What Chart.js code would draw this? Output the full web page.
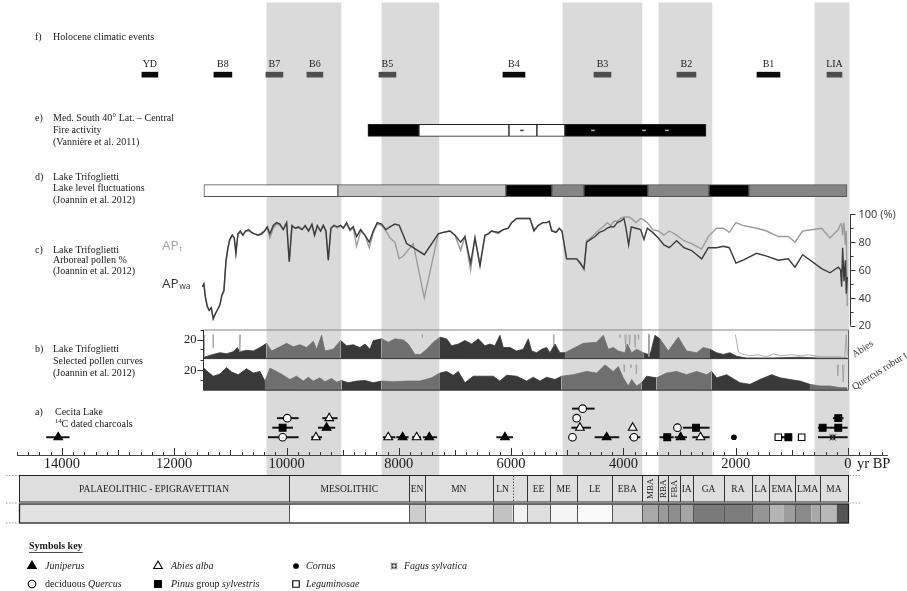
<!DOCTYPE html>
<html lang="en">
<head>
<meta charset="utf-8">
<title>Holocene records – Calabria</title>
<script src="https://cdn.jsdelivr.net/npm/chart.js@4.4.1/dist/chart.umd.min.js"></script>
<style>
  html, body { margin: 0; padding: 0; background: #ffffff; }
  canvas { display: block; }
</style>
</head>
<body>
<canvas id="chart" width="907" height="591"></canvas>
<script>
/* ================= data (ages in cal yr BP) ================= */

// f) Holocene climatic events
const eventNames = ['YD', 'B8', 'B7', 'B6', 'B5', 'B4', 'B3', 'B2', 'B1', 'LIA'];
const eventStart = [12576, 11293, 10367, 9637, 8354, 6145, 4524, 3046, 1621, 374];
const eventEnd   = [12291, 10973, 10064, 9352, 8051, 5753, 4221, 2708, 1211, 107];
const eventMajor = [true, true, false, false, false, true, false, false, true, false];

// shaded cold intervals
const bandStart = [10349, 8300, 5076, 3366, 588];
const bandEnd   = [9031, 7285, 3669, 2422, -20];

// e) fire activity, Med. South 40° Lat.
const fireStart = [8550, 7642, 6038, 5540, 5041];
const fireEnd   = [7642, 6038, 5540, 5041, 2529];
const fireHigh  = [true, false, false, false, true];
const fireMarkAge = [5807, 4542, 3634, 3224];

// d) lake level fluctuations (0 = lowest … 3 = highest)
const lakeStart = [11471, 9084, 6092, 5273, 4703, 3563, 2476, 1763];
const lakeEnd   = [9084, 6092, 5273, 4703, 3563, 2476, 1763, 18];
const lakeLevel = [0, 1, 3, 2, 3, 2, 3, 2];

// c) arboreal pollen %
const apAge = [11500,11471,11447,11412,11376,11340,11305,11263,11222,11186,
  11150,11115,11079,11043,11008,10966,10931,10901,10865,10824,
  10776,10729,10675,10622,10568,10503,10438,10390,10343,10296,
  10236,10177,10117,10058,9998,9951,9903,9844,9785,9725,
  9666,9607,9547,9500,9452,9393,9345,9298,9256,9209,
  9155,9096,9037,8989,8930,8870,8811,8752,8680,8603,
  8526,8455,8384,8306,8229,8158,8069,7992,7920,7861,
  7742,7546,7297,7208,7089,7000,6899,6822,6721,6643,
  6554,6466,6406,6347,6228,6139,6050,5991,5902,5842,
  5753,5664,5593,5516,5439,5367,5320,5278,5201,5142,
  5094,5011,4952,4833,4774,4702,4655,4584,4506,4429,
  4358,4287,4227,4168,4109,4049,3990,3954,3907,3859,
  3776,3693,3634,3574,3479,3378,3277,3183,3052,2921,
  2785,2606,2488,2339,2221,2114,1995,1876,1627,1449,
  1241,1063,944,807,469,321,172,131,113,95,
  71,47,30,12];
const apWa = [48,50,41,34,31,33,25,29,32,35,
  42,45,66,76,82,85,83,72,86,88,
  85,88,89,87,86,85,86,88,91,86,
  92,94,93,89,94,66,92,90,91,89,
  92,88,93,85,92,88,92,88,67,90,
  92,91,92,90,94,89,91,84,89,85,
  80,88,94,93,89,91,93,92,85,79,
  76,71,86,87,88,85,80,84,65,83,
  63,85,86,88,87,89,90,94,97,97,
  97,97,88,92,94,94,95,88,87,90,
  88,68,68,68,65,61,80,82,84,87,
  88,90,91,91,94,95,97,90,78,91,
  90,89,82,90,87,83,78,76,81,76,
  74,68,76,76,77,76,65,67,72,70,
  67,68,62,71,61,58,62,60,48,76,
  52,67,43,55];
const apT = [48,50,41,34,31,33,25,29,32,35,
  42,45,66,76,82,85,83,72,86,87,
  85,88,88,87,86,85,87,88,90,83,
  90,93,92,89,94,66,91,90,90,89,
  91,88,92,85,91,88,92,88,67,90,
  92,90,92,90,93,88,90,77,88,85,
  76,87,93,92,88,83,80,68,70,73,
  79,40,86,87,88,85,74,84,60,83,
  64,85,86,88,86,89,90,94,97,97,
  97,97,89,92,94,94,95,89,87,90,
  88,68,68,68,66,60,81,83,86,89,
  91,94,92,95,95,97,98,98,98,97,
  94,97,96,94,89,88,85,88,85,81,
  79,75,84,90,90,87,94,92,90,88,
  84,84,80,88,90,83,89,93,93,85,
  94,78,88,34];
const apTickValues = [20, 40, 60, 80, 100];
const apTickLabels = ['20', '40', '60', '80', '100 (%)'];

// b) selected pollen curves (%)
const abiesAge = [11471,11305,11186,11067,10949,10877,10830,10711,10592,10473,
  10355,10266,10117,9998,9880,9761,9642,9523,9464,9375,
  9316,9167,9037,8930,8811,8692,8603,8514,8455,8306,
  8188,8069,7920,7831,7713,7612,7505,7386,7267,7149,
  7059,6941,6822,6703,6585,6466,6377,6288,6199,6139,
  6020,5902,5783,5694,5634,5545,5456,5367,5308,5219,
  5130,5041,4922,4714,4477,4358,4269,4180,4091,3972,
  3931,3853,3764,3646,3556,3515,3438,3349,3200,3022,
  2874,2695,2577,2458,2339,2221,2102,1983,1805,1330,
  855,558,142,12];
const abiesPct = [1.5,4.4,6.2,5.1,7.3,11.6,7.3,8.7,8.0,11.6,
  16,8,12.4,16,12.4,14.5,11.6,18.2,9.8,24.4,
  8,9.8,18.9,13.5,14.5,11.6,15.3,9.8,18.9,20.7,
  17.1,20.7,19.6,15.3,4.4,4.4,9.8,17.1,22.5,20.7,
  13.5,15.3,18.9,15.3,20.7,13.5,15.3,13.5,24.4,11.6,
  11.6,8,9.8,20.7,8,6.2,9.8,11.6,6.2,15.3,
  6.2,6.2,9.8,16,17.1,24.4,9.8,11.6,8,6.2,
  15.3,6.2,9.8,6.2,4.4,6.2,24.4,20.7,8,22.5,
  8,6.2,11.6,9.8,6.2,4.4,6.2,2.5,0.7,0.7,
  1.5,0.7,0.7,0.7];
const quercusAge = [11471,11397,11305,11186,11067,10978,10859,10711,10592,10473,
  10384,10295,10176,10058,9939,9820,9701,9612,9523,9405,
  9316,9197,9108,9019,8900,8752,8603,8455,8306,8099,
  7861,7624,7416,7267,7149,7030,6941,6822,6674,
  6495,6317,6199,6080,5902,5724,5605,5486,5367,5219,
  5100,4892,4655,4477,4328,4180,4091,4002,3913,3853,
  3764,3675,3586,3408,3230,3052,2874,2695,2517,2428,
  2339,2161,1924,1746,1568,1360,1211,1033,855,677,
  499,321,142,12];
const quercusPct = [21.6,17.8,13.7,15.9,22.2,17.8,15.2,21,16.8,18.4,
  8.9,21.6,18.4,14.6,10.5,13.7,8.9,12.7,8.9,12.1,
  8.3,11.4,7.9,9.5,7.3,8.9,9.5,7.3,8.9,8.3,
  8.9,8.9,12.1,16.8,18.4,14.6,18.4,7.3,13.7,
  13.7,13.7,8.9,14.6,13.7,8.9,12.7,8.9,12.7,10.5,
  13.7,15.2,18.4,16.8,24.8,18.4,23.2,12.1,4.1,10.5,
  4.1,7.3,13.7,12.1,16.8,18.4,15.2,18.4,15.2,18.4,
  12.1,15.2,7.3,5.7,10.5,15.2,12.1,10.5,8.9,5.7,
  4.1,4.1,2.5,2.5];
// exaggerated curves (values above the panel top are off-scale)
const abiesExAge = [11480,11465,11450,11320,11305,11290,10850,10830,10810,7600,7580,7560,
  5500,5490,5480,5260,5240,5220,4080,4060,4040,3990,3960,3940,3920,3890,3860,
  3820,3790,3770,3750,3730,3710,3560,3545,3530,
  2050,1950,1900,1750,1600,1450,1330,1200,1000,850,700,500,300,150,60,30,12];
const abiesExPct = [40,3,40,40,11,40,40,7,40,40,22,40,
  40,28,40,40,13,40,40,22,40,40,12,40,40,14,40,
  40,12,40,40,20,40,40,2,40,
  40,7,5,3,4,2,5,3,4,3,4,2,2,2,1,25,3];
const quercusExAge = [4010,3985,3960,3890,3865,3840,3790,3770,3750,210,180,150,110,85,60];
const quercusExPct = [40,18,40,40,22,40,40,16,40,40,14,40,40,8,40];
const stripTickValues = [10, 20, 30];

// a) Cecita Lake 14C-dated charcoals
const charTaxon = ['Juniperus','Quercus','Pinus','Quercus','Abies','Juniperus','Abies','Abies','Juniperus','Abies',
  'Juniperus','Juniperus','Quercus','Quercus','Abies','Quercus','Juniperus','Abies','Quercus','Pinus',
  'Juniperus','Abies','Quercus','Pinus','Cornus','Leguminosae','Pinus','Leguminosae','Pinus','Pinus',
  'Pinus','Fagus'];
const charAge  = [14066,9987,10069,10069,9239,9286,9476,8188,7932,7682,
  7457,6110,4726,4832,4774,4907,4298,3835,3812,3219,
  2981,2625,3037,2708,2031,1241,1062,825,173,451,173,273];
const charFrom = [14274,10165,10247,10325,9357,9434,9553,8277,8039,7758,
  7564,6257,4910,4874,4920,4950,4506,3870,3895,3349,
  3081,2767,3060,2933,2031,1280,1200,825,262,529,300,529];
const charTo   = [13870,9791,9891,9791,9097,9137,9375,8069,7832,7611,
  7326,5972,4518,4797,4583,4870,4079,3800,3705,3111,
  2873,2470,3010,2470,2031,1150,1000,825,84,300,12,12];
const charRow  = [1,3,2,1,3,2,1,1,1,1, 1,1,4,3,2,1,1,2,1,1, 1,1,2,2,1,1,1,1,3,2, 2,1];

// cultural periods
const periodName  = ['PALAEOLITHIC - EPIGRAVETTIAN','MESOLITHIC','EN','MN','LN','','EE','ME','LE','EBA',
  'MBA','RBA','FBA','IA','GA','RA','LA','EMA','LMA','MA'];
const periodStart = [14766,9952,7814,7534,6329,5973,5712,5308,4821,4198,3664,3379,3201,2992,2755,2209,1710,1407,944,499];
const periodEnd   = [9952,7814,7534,6329,5973,5712,5308,4821,4198,3664,3379,3201,2992,2755,2209,1710,1407,944,499,0];
const phaseStart = [14766,9952,7814,7534,6329,5973,5712,5308,4821,4198,3664,3379,3201,2992,2755,2209,1710,1407,1150,944,650,499,200];
const phaseEnd   = [9952,7814,7534,6329,5973,5712,5308,4821,4198,3664,3379,3201,2992,2755,2209,1710,1407,1150,944,650,499,200,0];
const phaseTone  = [226,255,205,224,194,242,222,245,250,220,168,154,142,165,122,125,149,181,157,138,168,184,85];

// time axis
const ageLabels = [14000, 12000, 10000, 8000, 6000, 4000, 2000, 0];
const minorStep = 200;

/* ================= layout ================= */
const AREA = { left: 17, right: 887, top: 0, bottom: 455 };
const X_AXIS_H = 20;
const X_MIN = -695, X_MAX = 14800;
const BAND_BOTTOM = 475;
const SERIF = '"Liberation Serif", "Times New Roman", Times, serif';
const SANS = '"Open Sans", "DejaVu Sans", Arial, sans-serif';

// vertical placement of each panel: value lo at pixel pxLo, value hi at pixel pxHi
function placed(lo, hi, pxLo, pxHi) {
  const k = (hi - lo) / (pxLo - pxHi);
  return { type: 'linear', axis: 'y', display: false, offset: false,
           min: lo - (AREA.bottom - pxLo) * k, max: hi + (pxHi - AREA.top) * k };
}
const STRIP_AB = [357.3, 328.3], STRIP_QU = [389.3, 358.3];
const stripClip = ([bot, top]) => ({ left: 0, right: 0, top: -(top - AREA.top), bottom: -(AREA.bottom - bot) });

/* ================= datasets ================= */
const zip = (xs, ys) => xs.map((x, i) => ({ x, y: ys[i] }));
const rowBars = (s, e, y) => s.map((a, i) => ({ x: [a, e[i]], y }));
const inBand = age => bandStart.some((s, i) => age <= s && age >= bandEnd[i]);
const pollenShade = c => inBand((c.p0.parsed.x + c.p1.parsed.x) / 2) ? '#6f6f6f' : '#393939';
const inHighFire = a => fireStart.some((s, i) => fireHigh[i] && a <= s && a >= fireEnd[i]);
const LAKE_FILL = ['#ffffff', '#c4c4c4', '#858585', '#000000'];

function fagusGlyph() {
  const c = document.createElement('canvas');
  c.width = c.height = 9;
  const g = c.getContext('2d');
  g.strokeStyle = '#111'; g.lineWidth = 1;
  g.beginPath(); g.arc(4.5, 4.5, 2.4, 0, Math.PI * 2); g.stroke();
  for (let k = 0; k < 4; k++) {
    const t = Math.PI / 4 + k * Math.PI / 2;
    g.beginPath();
    g.moveTo(4.5 + Math.cos(t) * 1.2, 4.5 + Math.sin(t) * 1.2);
    g.lineTo(4.5 + Math.cos(t) * 4.4, 4.5 + Math.sin(t) * 4.4);
    g.stroke();
  }
  return c;
}
const FAGUS = fagusGlyph();
const TAXON_STYLE = {
  Juniperus:   { pointStyle: 'triangle', r: 5,   fill: '#000' },
  Abies:       { pointStyle: 'triangle', r: 5,   fill: '#fff' },
  Quercus:     { pointStyle: 'circle',   r: 3.8, fill: '#fff' },
  Pinus:       { pointStyle: 'rect',     r: 4.8, fill: '#000' },
  Cornus:      { pointStyle: 'circle',   r: 2.3, fill: '#000' },
  Leguminosae: { pointStyle: 'rect',     r: 4.6, fill: '#fff' },
  Fagus:       { pointStyle: FAGUS,      r: 4.5, fill: '#fff' }
};

const datasets = [
  { type: 'bar', label: 'Cold phases', indexAxis: 'y', yAxisID: 'yBand',
    data: rowBars(bandStart, bandEnd, 0.5), backgroundColor: '#dadada',
    barThickness: BAND_BOTTOM, grouped: false, clip: false, order: 100 },
  { type: 'bar', label: 'Holocene climatic events', indexAxis: 'y', yAxisID: 'yEv',
    data: rowBars(eventStart, eventEnd, 0.5),
    backgroundColor: eventMajor.map(m => m ? '#0b0b0b' : '#4e4e4e'),
    barThickness: 5, grouped: false, order: 50 },
  { type: 'bar', label: 'Fire activity', indexAxis: 'y', yAxisID: 'yFire',
    data: rowBars(fireStart, fireEnd, 0.5),
    backgroundColor: fireHigh.map(h => h ? '#000000' : '#ffffff'),
    borderColor: '#222', borderWidth: 1, borderSkipped: false,
    barThickness: 12, grouped: false, order: 50 },
  { type: 'scatter', label: 'Fire marks', yAxisID: 'yFire',
    data: fireMarkAge.map(x => ({ x, y: 0.5 })), pointStyle: 'line', pointRadius: 1.8,
    pointBorderWidth: 1.5, pointBorderColor: fireMarkAge.map(a => inHighFire(a) ? '#b5b5b5' : '#444'),
    order: 45 },
  { type: 'bar', label: 'Lake level', indexAxis: 'y', yAxisID: 'yLake',
    data: rowBars(lakeStart, lakeEnd, 0.5),
    backgroundColor: lakeLevel.map(l => LAKE_FILL[l]),
    borderColor: '#555', borderWidth: 1, borderSkipped: false,
    barThickness: 12, grouped: false, order: 50 },
  { type: 'line', label: 'Abies', yAxisID: 'yAb', data: zip(abiesAge, abiesPct),
    borderColor: '#393939', backgroundColor: '#393939', borderWidth: 0.8, pointRadius: 0,
    fill: { value: 0 }, showLine: true, tension: 0,
    segment: { borderColor: pollenShade, backgroundColor: pollenShade }, order: 40 },
  { type: 'line', label: 'Quercus robur t.', yAxisID: 'yQu', data: zip(quercusAge, quercusPct),
    borderColor: '#393939', backgroundColor: '#393939', borderWidth: 0.8, pointRadius: 0,
    fill: { value: 0 }, showLine: true, tension: 0,
    segment: { borderColor: pollenShade, backgroundColor: pollenShade }, order: 40 },
  { type: 'line', label: 'Abies (exaggerated)', yAxisID: 'yAb', data: zip(abiesExAge, abiesExPct),
    borderColor: '#9a9a9a', borderWidth: 0.8, pointRadius: 0, fill: false, showLine: true,
    clip: stripClip(STRIP_AB), order: 35 },
  { type: 'line', label: 'Quercus (exaggerated)', yAxisID: 'yQu', data: zip(quercusExAge, quercusExPct),
    borderColor: '#9a9a9a', borderWidth: 0.8, pointRadius: 0, fill: false, showLine: true,
    clip: stripClip(STRIP_QU), order: 35 },
  { type: 'line', label: 'APt', yAxisID: 'yAP', data: zip(apAge, apT),
    borderColor: '#9c9c9c', borderWidth: 1.4, pointRadius: 0, fill: false, showLine: true,
    tension: 0, order: 30 },
  { type: 'line', label: 'APwa', yAxisID: 'yAP', data: zip(apAge, apWa),
    borderColor: '#3b3b3b', borderWidth: 1.4, pointRadius: 0, fill: false, showLine: true,
    tension: 0, order: 20 },
  { type: 'bar', label: 'Age ranges', indexAxis: 'y', yAxisID: 'yCh',
    data: charFrom.map((f, i) => ({ x: [f, charTo[i]], y: charRow[i] })),
    backgroundColor: '#111', barThickness: 1.3, grouped: false, order: 10 }
];
Object.keys(TAXON_STYLE).forEach(t => {
  const st = TAXON_STYLE[t];
  datasets.push({
    type: 'scatter', label: t, yAxisID: 'yCh',
    data: charAge.map((a, i) => ({ x: a, y: charRow[i], taxon: charTaxon[i] })).filter(p => p.taxon === t),
    pointStyle: st.pointStyle, pointRadius: st.r, pointBackgroundColor: st.fill,
    pointBorderColor: '#000', pointBorderWidth: 1.1, order: 0
  });
});

/* ================= drawing helpers ================= */
function put(ctx, s, x, y, font, color = '#1a1a1a', align = 'left', base = 'middle') {
  ctx.font = font; ctx.fillStyle = color; ctx.textAlign = align; ctx.textBaseline = base;
  ctx.fillText(s, x, y);
  return ctx.measureText(s).width;
}
function seg(ctx, x1, y1, x2, y2) { ctx.beginPath(); ctx.moveTo(x1, y1); ctx.lineTo(x2, y2); ctx.stroke(); }

const panelLabels = [
  { tag: 'f)', y: 37,  step: 12,   lines: ['Holocene climatic events'] },
  { tag: 'e)', y: 118, step: 12.2, lines: ['Med. South 40° Lat. – Central', 'Fire activity', '(Vannière et al. 2011)'] },
  { tag: 'd)', y: 177, step: 11.7, lines: ['Lake Trifoglietti', 'Lake level fluctuations', '(Joannin et al. 2012)'] },
  { tag: 'c)', y: 250, step: 10.5, lines: ['Lake Trifoglietti', 'Arboreal pollen %', '(Joannin et al. 2012)'] },
  { tag: 'b)', y: 349, step: 12,   lines: ['Lake Trifoglietti', 'Selected pollen curves', '(Joannin et al. 2012)'] }
];
const keyItems = [
  { taxon: 'Juniperus',   col: 0, row: 0, parts: [['Juniperus', true]] },
  { taxon: 'Abies',       col: 1, row: 0, parts: [['Abies alba', true]] },
  { taxon: 'Cornus',      col: 2, row: 0, parts: [['Cornus', true]] },
  { taxon: 'Fagus',       col: 3, row: 0, parts: [['Fagus sylvatica', true]] },
  { taxon: 'Quercus',     col: 0, row: 1, parts: [['deciduous ', false], ['Quercus', true]] },
  { taxon: 'Pinus',       col: 1, row: 1, parts: [['Pinus', true], [' group ', false], ['sylvestris', true]] },
  { taxon: 'Leguminosae', col: 2, row: 1, parts: [['Leguminosae', true]] }
];

const decor = {
  id: 'decor',
  beforeDraw(chart) {
    const { ctx } = chart;
    ctx.save(); ctx.fillStyle = '#ffffff'; ctx.fillRect(0, 0, chart.width, chart.height); ctx.restore();
  },
  afterDraw(chart) {
    const { ctx, scales, chartArea } = chart;
    const xs = scales.x;
    const X = v => xs.getPixelForValue(v);
    ctx.save();

    // time-axis tick marks (pointing up)
    ctx.strokeStyle = '#333'; ctx.lineWidth = 1;
    xs.ticks.forEach(t => {
      const v = Math.round(t.value);
      const len = v % 2000 === 0 ? 7 : (v % 1000 === 0 ? 5 : 3);
      const px = Math.round(X(v)) + 0.5;
      seg(ctx, px, chartArea.bottom, px, chartArea.bottom - len);
    });
    put(ctx, 'yr BP', X(0) + 9, chartArea.bottom + 8.7, `14.5px ${SERIF}`, '#1a1a1a');

    // event names over their bars
    const evIdx = chart.data.datasets.findIndex(d => d.label === 'Holocene climatic events');
    chart.getDatasetMeta(evIdx).data.forEach((bar, i) => {
      put(ctx, eventNames[i], (bar.x + bar.base) / 2, bar.y - 10, `10px ${SERIF}`, '#1a1a1a', 'center');
    });

    // panel captions
    panelLabels.forEach(p => {
      put(ctx, p.tag, 35, p.y, `10px ${SERIF}`);
      p.lines.forEach((l, i) => put(ctx, l, 53, p.y + i * p.step, `10px ${SERIF}`));
    });
    put(ctx, 'a)', 35, 412, `10px ${SERIF}`);
    put(ctx, 'Cecita Lake', 55, 412, `10px ${SERIF}`);
    const w14 = put(ctx, '14', 55, 421, `6.5px ${SERIF}`);
    put(ctx, 'C dated charcoals', 55 + w14, 424, `10px ${SERIF}`);

    // AP curve labels
    const wt = put(ctx, 'AP', 162, 250, `13.5px ${SANS}`, '#a3a3a3', 'left', 'alphabetic');
    put(ctx, 't', 162 + wt + 0.5, 250.5, `8px ${SANS}`, '#a3a3a3', 'left', 'alphabetic');
    const ww = put(ctx, 'AP', 162, 288, `13.5px ${SANS}`, '#333333', 'left', 'alphabetic');
    put(ctx, 'wa', 162 + ww + 0.5, 288.5, `8.5px ${SANS}`, '#333333', 'left', 'alphabetic');

    // AP axis on the right
    const yAP = scales.yAP;
    const ax = Math.round(X(0)) + 2.5;
    ctx.strokeStyle = '#333'; ctx.lineWidth = 1;
    seg(ctx, ax, yAP.getPixelForValue(100), ax, yAP.getPixelForValue(20));
    for (let v = 20; v <= 100; v += 10) {
      const py = Math.round(yAP.getPixelForValue(v)) + 0.5;
      seg(ctx, ax, py, ax + (v % 20 === 0 ? 5 : 3), py);
    }
    apTickValues.forEach((v, i) => put(ctx, apTickLabels[i], ax + 8, yAP.getPixelForValue(v) + 0.5, `11px ${SANS}`, '#333'));

    // pollen strips: frame and axes
    const yAb = scales.yAb, yQu = scales.yQu;
    const sx = Math.round(X(abiesAge[0])) - 0.5, ex = Math.round(X(0)) + 0.5;
    ctx.strokeStyle = '#888'; seg(ctx, sx, yAb.getPixelForValue(30), ex, yAb.getPixelForValue(30));
    ctx.strokeStyle = '#333';
    seg(ctx, sx, yAb.getPixelForValue(0), ex, yAb.getPixelForValue(0));
    seg(ctx, sx, yQu.getPixelForValue(0), ex, yQu.getPixelForValue(0));
    ctx.strokeStyle = '#666'; seg(ctx, ex, yAb.getPixelForValue(30), ex, yQu.getPixelForValue(0));
    ctx.strokeStyle = '#333';
    seg(ctx, sx, yAb.getPixelForValue(30), sx, yQu.getPixelForValue(0));
    [yAb, yQu].forEach(s => {
      stripTickValues.forEach(v => {
        const py = Math.round(s.getPixelForValue(v)) + 0.5;
        seg(ctx, sx, py, sx - (v === 20 ? 6 : 3), py);
      });
      put(ctx, '20', sx - 7, s.getPixelForValue(20) + 0.5, `12.5px ${SERIF}`, '#222', 'right');
    });
    ctx.save();
    ctx.translate(ex + 6, yAb.getPixelForValue(1));
    ctx.rotate(-0.58);
    put(ctx, 'Abies', 0, 0, `10px ${SERIF}`, '#333', 'left', 'alphabetic');
    ctx.restore();
    ctx.save();
    ctx.translate(ex + 6, yQu.getPixelForValue(0));
    ctx.rotate(-0.56);
    put(ctx, 'Quercus robur t.', 0, 0, `10px ${SERIF}`, '#333', 'left', 'alphabetic');
    ctx.restore();

    // cultural period table
    const r1t = BAND_BOTTOM + 0.5, r1b = 502, r2t = 504, r2b = 523;
    const L = Math.round(X(periodStart[0])) + 0.5, R = Math.round(X(0)) + 0.5;
    phaseStart.forEach((s, i) => {
      const a = X(s), b = X(phaseEnd[i]), t = phaseTone[i];
      ctx.fillStyle = `rgb(${t},${t},${t})`;
      ctx.fillRect(a, r2t, b - a, r2b - r2t);
    });
    ctx.fillStyle = '#dedede';
    ctx.fillRect(L, r1t, R - L, r1b - r1t);
    ctx.strokeStyle = '#222'; ctx.lineWidth = 1;
    ctx.strokeRect(L, r1t, R - L, r1b - r1t);
    ctx.lineWidth = 1.3;
    ctx.strokeRect(L, r2t, R - L, r2b - r2t);
    ctx.lineWidth = 1;
    periodStart.forEach((s, i) => {
      if (i === 0) return;
      const px = Math.round(X(s)) + 0.5;
      if (periodName[i] === '') { ctx.setLineDash([1.5, 1.5]); ctx.strokeStyle = '#555'; }
      else { ctx.setLineDash([]); ctx.strokeStyle = '#333'; }
      seg(ctx, px, r1t, px, r1b);
      ctx.setLineDash([]); ctx.strokeStyle = '#555';
      seg(ctx, px, r2t, px, r2b);
    });
    periodName.forEach((n, i) => {
      if (!n) return;
      const a = X(periodStart[i]), b = X(periodEnd[i]);
      const cx = (a + b) / 2, cy = (r1t + r1b) / 2;
      ctx.font = `9.5px ${SERIF}`;
      if (ctx.measureText(n).width > (b - a) - 3) {
        ctx.save(); ctx.translate(cx + 0.5, cy); ctx.rotate(-Math.PI / 2);
        put(ctx, n, 0, 0, `9px ${SERIF}`, '#1a1a1a', 'center');
        ctx.restore();
      } else {
        put(ctx, n, cx, cy + 0.5, `9.5px ${SERIF}`, '#1a1a1a', 'center');
      }
    });
    ctx.strokeStyle = '#999'; ctx.setLineDash([1.5, 1.5]);
    [r1t, 503, r2b].forEach(y => seg(ctx, 6, y, L - 1, y));
    [r1t, 503].forEach(y => seg(ctx, R + 1, y, R + 12, y));
    ctx.setLineDash([]);

    // symbols key
    const kw = put(ctx, 'Symbols key', 29, 546, `bold 10px ${SERIF}`);
    ctx.strokeStyle = '#1a1a1a'; ctx.lineWidth = 0.8; seg(ctx, 29, 552.5, 29 + kw, 552.5);
    const colX = [32, 158, 296, 394], rowY = [566, 584];
    keyItems.forEach(k => {
      const st = TAXON_STYLE[k.taxon];
      const mx = colX[k.col], my = rowY[k.row];
      ctx.fillStyle = st.fill; ctx.strokeStyle = '#000'; ctx.lineWidth = 1.1;
      Chart.helpers.drawPoint(ctx, { pointStyle: st.pointStyle, radius: st.r, rotation: 0, borderWidth: 1.1 }, mx, my);
      let tx = mx + (k.taxon === 'Cornus' || k.taxon === 'Leguminosae' || k.taxon === 'Fagus' ? 10 : 13);
      k.parts.forEach(([s, it]) => { tx += put(ctx, s, tx, my, `${it ? 'italic ' : ''}10px ${SERIF}`); });
    });

    ctx.restore();
  }
};

/* ================= chart ================= */
Chart.defaults.font.family = SERIF;
new Chart(document.getElementById('chart'), {
  type: 'scatter',
  data: { datasets },
  options: {
    responsive: false, animation: false, devicePixelRatio: 1, events: [],
    layout: { padding: { left: AREA.left, right: 907 - AREA.right, top: AREA.top,
                         bottom: 591 - AREA.bottom - X_AXIS_H } },
    plugins: { legend: { display: false }, tooltip: { enabled: false } },
    scales: {
      x: {
        type: 'linear', min: X_MIN, max: X_MAX, reverse: true, offset: false,
        grid: { display: false, drawTicks: false },
        border: { display: true, color: '#444', width: 1, z: 1 },
        afterBuildTicks: s => {
          const t = [];
          for (let v = Math.ceil(X_MIN / minorStep) * minorStep; v <= X_MAX; v += minorStep) t.push({ value: v });
          s.ticks = t;
        },
        ticks: {
          z: 1, autoSkip: false, maxRotation: 0, minRotation: 0, padding: 0,
          font: { family: SERIF, size: 14.5 }, color: '#1a1a1a',
          callback: v => ageLabels.includes(Math.round(v)) ? String(Math.round(v)) : ''
        },
        afterFit: s => { s.height = X_AXIS_H; }
      },
      yBand: placed(0, 1, BAND_BOTTOM, 0),
      yEv:   placed(0, 1, 72, 67),
      yFire: placed(0, 1, 132, 120),
      yLake: placed(0, 1, 193, 181),
      yAP:   placed(20, 100, 324, 211),
      yAb:   placed(0, 30, STRIP_AB[0], STRIP_AB[1]),
      yQu:   placed(0, 30, STRIP_QU[0], STRIP_QU[1]),
      yCh:   placed(1, 4, 437, 408)
    }
  },
  plugins: [decor]
});
</script>
</body>
</html>
